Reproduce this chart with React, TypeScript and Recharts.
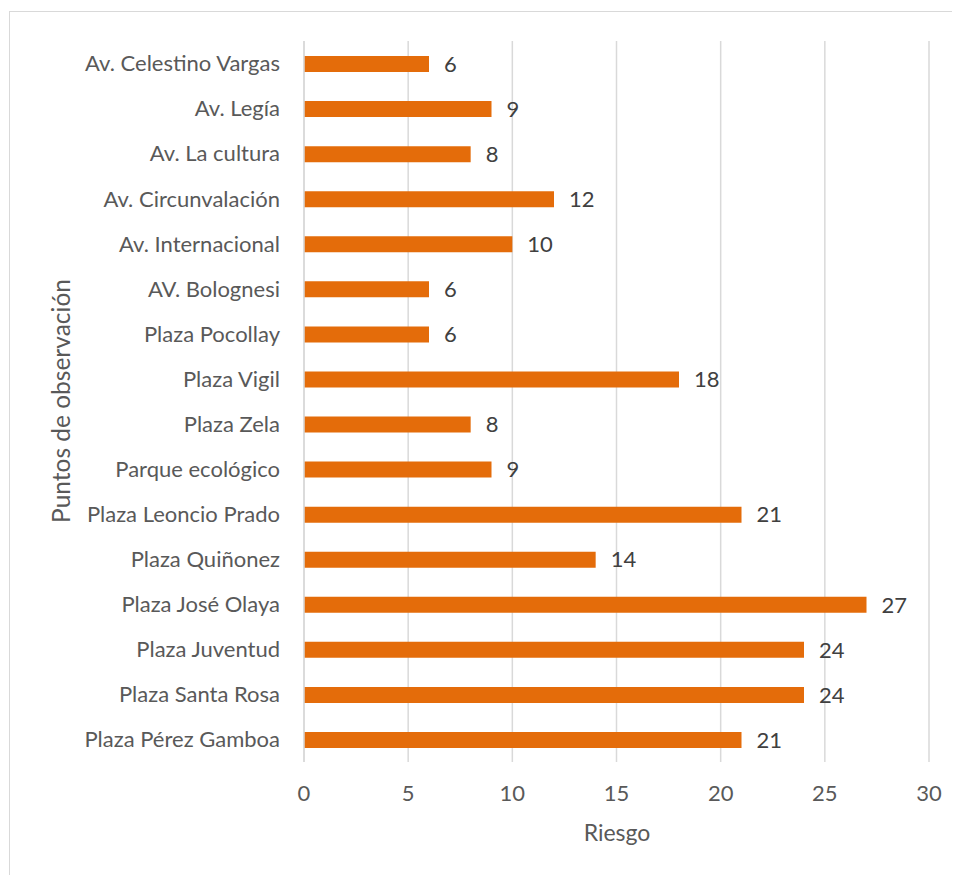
import React from "react";
import { BarChart, Bar, XAxis, YAxis, CartesianGrid, LabelList, Label } from "recharts";

const categories = [
  "Av. Celestino Vargas",
  "Av. Legía",
  "Av. La cultura",
  "Av. Circunvalación",
  "Av. Internacional",
  "AV. Bolognesi",
  "Plaza Pocollay",
  "Plaza Vigil",
  "Plaza Zela",
  "Parque ecológico",
  "Plaza Leoncio Prado",
  "Plaza Quiñonez",
  "Plaza José Olaya",
  "Plaza Juventud",
  "Plaza Santa Rosa",
  "Plaza Pérez Gamboa",
];
const riesgo = [6, 9, 8, 12, 10, 6, 6, 18, 8, 9, 21, 14, 27, 24, 24, 21];
const xTicks = [0, 5, 10, 15, 20, 25, 30];
const xTitle = "Riesgo";
const yTitle = "Puntos de observación";

const data = categories.map((name, i) => ({ name, value: riesgo[i] }));

const FONT = "Lato, 'Open Sans', sans-serif";

export default function App() {
  return (
    <div style={{ position: "relative", width: 952, height: 867, fontFamily: FONT, background: "#fff" }}>
      <div
        style={{
          position: "absolute",
          left: 1,
          top: 3,
          width: 960,
          height: 880,
          borderLeft: "1px solid #d9d9d9",
          borderTop: "1px solid #d9d9d9",
          boxSizing: "border-box",
        }}
      />
      <div style={{ position: "absolute", left: 0, top: 0 }}>
        <BarChart
          width={952}
          height={867}
          layout="vertical"
          data={data}
          margin={{ top: 33, right: 31, bottom: 0, left: 0 }}
        >
          <CartesianGrid horizontal={false} vertical={true} stroke="#d9d9d9" strokeWidth={1.5} />
          <XAxis
            type="number"
            domain={[0, 30]}
            ticks={xTicks}
            interval={0}
            axisLine={false}
            tickLine={false}
            tickSize={0}
            tickMargin={23}
            height={113}
            tick={{ fill: "#595959", fontSize: 22, fontFamily: FONT }}
          >
            <Label
              content={() => (
                <text x={609} y={824} textAnchor="middle" dominantBaseline="central" fill="#595959" fontSize={23} fontFamily={FONT}>
                  {xTitle}
                </text>
              )}
            />
          </XAxis>
          <YAxis
            type="category"
            dataKey="name"
            width={296}
            axisLine={{ stroke: "#d9d9d9", strokeWidth: 1.5 }}
            tickLine={false}
            tickSize={0}
            tickMargin={24}
            interval={0}
            tick={{ fill: "#595959", fontSize: 22, fontFamily: FONT }}
          >
            <Label
              content={() => (
                <text
                  x={52}
                  y={393}
                  textAnchor="middle"
                  dominantBaseline="central"
                  transform="rotate(-90, 52, 393)"
                  fill="#595959"
                  fontSize={24.5}
                  fontFamily={FONT}
                >
                  {yTitle}
                </text>
              )}
            />
          </YAxis>
          <Bar dataKey="value" fill="#E46C0A" barSize={16} isAnimationActive={false}>
            <LabelList dataKey="value" position="right" offset={15} fill="#404040" fontSize={22} fontFamily={FONT} />
          </Bar>
        </BarChart>
      </div>
    </div>
  );
}
